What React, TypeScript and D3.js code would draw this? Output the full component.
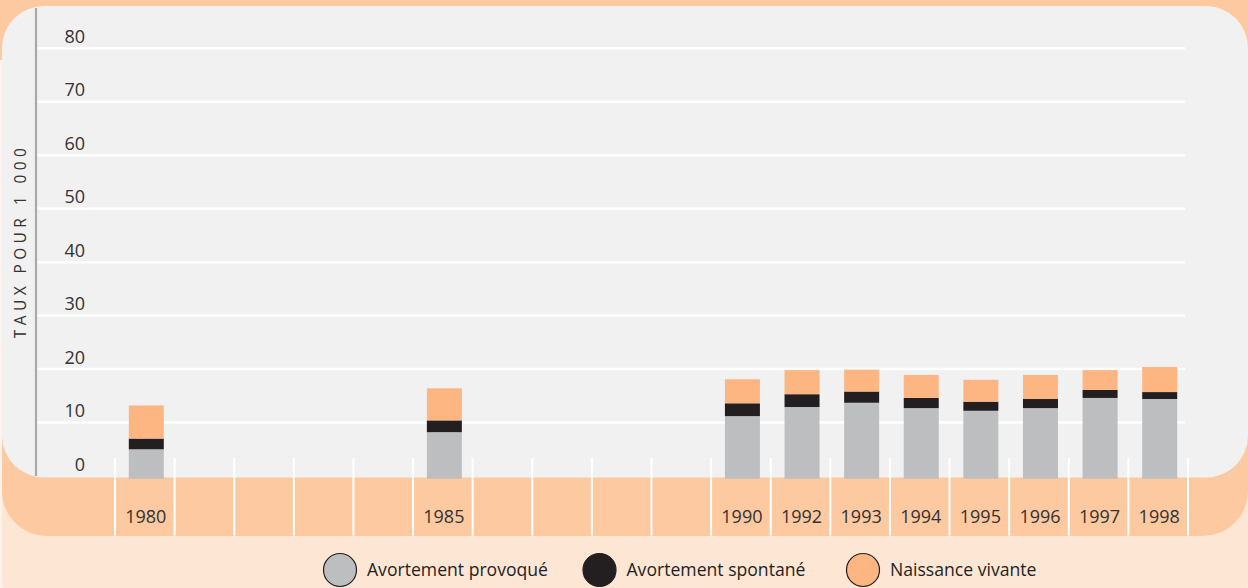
import React from "react";
import * as d3 from "d3";

const years = ["1980", "", "", "", "", "1985", "", "", "", "", "1990", "1992", "1993", "1994", "1995", "1996", "1997", "1998"];
const provoque = [5.0, null, null, null, null, 8.2, null, null, null, null, 11.2, 12.9, 13.7, 12.7, 12.2, 12.7, 14.6, 14.4];
const spontane = [2.0, null, null, null, null, 2.2, null, null, null, null, 2.4, 2.4, 2.1, 1.9, 1.7, 1.7, 1.5, 1.3];
const naissance = [6.2, null, null, null, null, 6.0, null, null, null, null, 4.5, 4.5, 4.1, 4.3, 4.1, 4.5, 3.7, 4.7];
const yTicks = [0, 10, 20, 30, 40, 50, 60, 70, 80];
const seriesNames = ["Avortement provoqué", "Avortement spontané", "Naissance vivante"];
const seriesKeys = ["provoque", "spontane", "naissance"];

const W = 1248;
const H = 588;
const FONT = "'Open Sans', sans-serif";
const colors: Record<string, string> = {
  provoque: "#bcbec0",
  spontane: "#231f20",
  naissance: "#fdb581",
};
const legendX = [340, 599.5, 863];

export default function App() {
  const idx = years.map((_, i) => i);
  const slot = d3.scaleBand<number>().domain(idx).range([115, 1188]).padding(0);
  const y = d3.scaleLinear().domain([0, 80]).range([476, 48.3]);
  const barW = 35;
  const barShift = 1.5;
  const baseOffset = 2.7;

  const rows = idx
    .filter((i) => provoque[i] != null)
    .map((i) => ({ i, provoque: provoque[i] as number, spontane: spontane[i] as number, naissance: naissance[i] as number }));
  const stack = d3.stack<any>().keys(seriesKeys)(rows);

  return (
    <div style={{ position: "fixed", left: 0, top: 0, width: W, height: H, background: "#fdf3ee" }}>
      <svg width={W} height={H} style={{ display: "block" }}>
        {/* light peach bottom */}
        <rect x={2} y={300} width={W - 2} height={330} rx={50} fill="#fee6d5" />
        {/* peach band */}
        <rect x={0} y={0} width={W} height={60} fill="#fdc9a0" />
        <rect x={2} y={-60} width={W - 2} height={596} rx={45} fill="#fdc9a0" />
        {/* gray panel */}
        <rect x={2} y={6} width={W - 2} height={471.5} rx={42} fill="#f1f1f1" />

        {/* gridlines */}
        {yTicks.filter((t) => t > 0).map((t) => (
          <line key={t} x1={37} x2={1185} y1={y(t)} y2={y(t)} stroke="#ffffff" strokeWidth={2.5} />
        ))}
        {/* axis line */}
        <line x1={36} x2={36} y1={8} y2={y(0)} stroke="#a7a9ac" strokeWidth={2.2} />
        {/* tick labels */}
        {yTicks.map((t) => (
          <text key={t} x={85} y={y(t) - 5.5} textAnchor="end" fontFamily={FONT} fontSize={18} fill="#333">
            {t}
          </text>
        ))}
        {/* axis title */}
        <text
          transform={`translate(26, ${241}) rotate(-90)`}
          textAnchor="middle"
          fontFamily={FONT}
          fontSize={15.5}
          letterSpacing={4.4}
          fill="#333"
        >
          TAUX POUR 1 000
        </text>

        {/* separators */}
        {[...idx, idx.length].map((i) => {
          const xx = i < idx.length ? (slot(i) as number) : slot.range()[1];
          return <line key={i} x1={xx} x2={xx} y1={458} y2={535.6} stroke="#ffffff" strokeWidth={2} />;
        })}

        {/* bars */}
        {stack.map((s) => (
          <g key={s.key} fill={colors[s.key]}>
            {s.map((d: any) => {
              const x0 = (slot(d.data.i) as number) + (slot.bandwidth() - barW) / 2 + barShift;
              const top = y(d[1]);
              const bot = d[0] === 0 ? y(0) + baseOffset : y(d[0]);
              return <rect key={d.data.i} x={x0} y={top} width={barW} height={bot - top} />;
            })}
          </g>
        ))}

        {/* category labels */}
        {idx.map((i) => (
          <text
            key={i}
            x={(slot(i) as number) + slot.bandwidth() / 2 + 1}
            y={523}
            textAnchor="middle"
            fontFamily={FONT}
            fontSize={18}
            fill="#333"
          >
            {years[i]}
          </text>
        ))}

        {/* legend */}
        {seriesKeys.map((k, j) => (
          <g key={k}>
            <circle cx={legendX[j]} cy={570} r={16.5} fill={colors[k]} stroke="#231f20" strokeWidth={1.2} />
            <text x={legendX[j] + 27} y={576} fontFamily={FONT} fontSize={17.6} fill="#231f20">
              {seriesNames[j]}
            </text>
          </g>
        ))}
      </svg>
    </div>
  );
}
